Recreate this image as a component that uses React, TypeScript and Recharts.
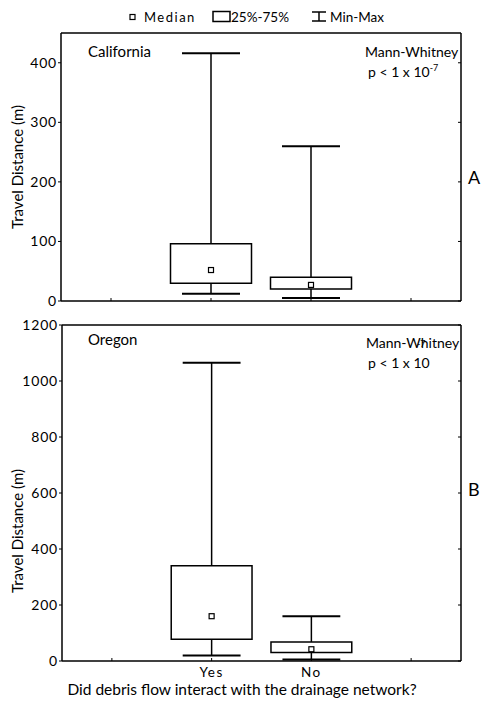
import { ComposedChart, XAxis, YAxis, ReferenceArea, ReferenceLine, Scatter } from 'recharts'

// groups and where they sit on the numeric x axis
const groups = ['Yes', 'No']
const groupPos = [2, 3]
const xTicks = [1, 2, 3, 4]
const xTickLabels = ['', 'Yes', 'No', '']

// California travel distance (m)
const caMin = [12, 5]
const caQ1 = [30, 20]
const caMedian = [52, 27]
const caQ3 = [96, 40]
const caMax = [416, 260]
const caTicks = [0, 100, 200, 300, 400]

// Oregon travel distance (m)
const orMin = [20, 5]
const orQ1 = [78, 30]
const orMedian = [160, 42]
const orQ3 = [340, 68]
const orMax = [1065, 160]
const orTicks = [0, 200, 400, 600, 800, 1000, 1200]

const FONT = 'Lato, "Open Sans", sans-serif'
const BOX_HALF = 0.405
const CAP_HALF = 0.29
const INK = '#000'

const MedianMark = (props: any) => {
  const { cx, cy } = props
  return <rect x={cx - 2.5} y={cy - 2.5} width={5} height={5} fill="#fff" stroke={INK} strokeWidth={1.2} />
}

function boxes(min: number[], q1: number[], q3: number[], max: number[]) {
  const out: any[] = []
  groups.forEach((g, i) => {
    const x = groupPos[i]
    out.push(
      <ReferenceLine key={g + 'up'} segment={[{ x, y: q3[i] }, { x, y: max[i] }]} stroke={INK} strokeWidth={1.5} />,
      <ReferenceLine key={g + 'dn'} segment={[{ x, y: min[i] }, { x, y: q1[i] }]} stroke={INK} strokeWidth={1.5} />,
      <ReferenceLine key={g + 'capT'} segment={[{ x: x - CAP_HALF, y: max[i] }, { x: x + CAP_HALF, y: max[i] }]} stroke={INK} strokeWidth={2} />,
      <ReferenceLine key={g + 'capB'} segment={[{ x: x - CAP_HALF, y: min[i] }, { x: x + CAP_HALF, y: min[i] }]} stroke={INK} strokeWidth={2} />,
      <ReferenceArea key={g + 'box'} x1={x - BOX_HALF} x2={x + BOX_HALF} y1={q1[i]} y2={q3[i]} fill="#fff" fillOpacity={1} stroke={INK} strokeWidth={1.5} />
    )
  })
  return out
}

function Panel(props: {
  width: number; height: number; margin: any; domainMax: number; ticks: number[]
  min: number[]; q1: number[]; median: number[]; q3: number[]; max: number[]; showX: boolean; yWidth: number
}) {
  const medians = groups.map((g, i) => ({ name: g, x: groupPos[i], y: props.median[i] }))
  const tickStyle = { fontFamily: FONT, fontSize: 14, fill: INK, letterSpacing: 0.8 }
  return (
    <ComposedChart width={props.width} height={props.height} margin={props.margin}>
      <XAxis
        dataKey="x"
        type="number"
        domain={[0.5, 4.5]}
        ticks={xTicks}
        allowDataOverflow
        height={props.showX ? 22 : 1}
        tickSize={-3}
        tickMargin={props.showX ? 9 : 0}
        tickFormatter={(v: number) => (props.showX ? xTickLabels[xTicks.indexOf(v)] : '')}
        tick={{ ...tickStyle, letterSpacing: 1.5, fontSize: 13.5 }}
        axisLine={{ stroke: INK, strokeWidth: 1.5 }}
        tickLine={{ stroke: INK }}
      />
      <XAxis
        xAxisId="top"
        orientation="top"
        type="number"
        domain={[0.5, 4.5]}
        ticks={xTicks}
        allowDataOverflow
        height={1}
        tickSize={-3}
        tickFormatter={() => ''}
        axisLine={{ stroke: INK, strokeWidth: 1.5 }}
        tickLine={{ stroke: INK }}
      />
      <YAxis
        type="number"
        domain={[0, props.domainMax]}
        ticks={props.ticks}
        allowDataOverflow
        width={props.yWidth}
        tickSize={3}
        tickMargin={1}
        tick={tickStyle}
        axisLine={{ stroke: INK, strokeWidth: 1.5 }}
        tickLine={{ stroke: INK }}
      />
      <YAxis
        yAxisId="right"
        orientation="right"
        type="number"
        domain={[0, props.domainMax]}
        ticks={props.ticks}
        allowDataOverflow
        width={1}
        tickSize={-3}
        tickFormatter={() => ''}
        axisLine={{ stroke: INK, strokeWidth: 1.5 }}
        tickLine={{ stroke: INK }}
      />
      {boxes(props.min, props.q1, props.q3, props.max)}
      <Scatter data={medians} dataKey="y" shape={<MedianMark />} isAnimationActive={false} />
    </ComposedChart>
  )
}

export default function App() {
  const txt = { fontFamily: FONT, fill: INK }
  return (
    <div style={{ position: 'absolute', left: 0, top: 0, width: 482, height: 701, background: '#fff' }}>
      <div style={{ position: 'absolute', left: 0, top: 0 }}>
        <Panel
          width={482} height={312}
          margin={{ top: 32, right: 20, bottom: 10, left: 10 }}
          domainMax={450} ticks={caTicks}
          min={caMin} q1={caQ1} median={caMedian} q3={caQ3} max={caMax}
          showX={false} yWidth={51}
        />
      </div>
      <div style={{ position: 'absolute', left: 0, top: 312 }}>
        <Panel
          width={482} height={389}
          margin={{ top: 12, right: 20, bottom: 18, left: 10 }}
          domainMax={1200} ticks={orTicks}
          min={orMin} q1={orQ1} median={orMedian} q3={orQ3} max={orMax}
          showX={true} yWidth={52}
        />
      </div>
      <svg width={482} height={701} style={{ position: 'absolute', left: 0, top: 0, pointerEvents: 'none' }}>
        {/* legend */}
        <rect x={130} y={14.5} width={5} height={5} fill="#fff" stroke={INK} strokeWidth={1.2} />
        <text x={144} y={22} {...txt} fontSize={13} letterSpacing={1.5}>Median</text>
        <rect x={213} y={11.5} width={17} height={10} fill="#fff" stroke={INK} strokeWidth={1.5} />
        <text x={231} y={22} {...txt} fontSize={13.5}>25%-75%</text>
        <line x1={312} x2={326} y1={12} y2={12} stroke={INK} strokeWidth={1.5} />
        <line x1={319} x2={319} y1={12} y2={21} stroke={INK} strokeWidth={1.5} />
        <line x1={312} x2={326} y1={21} y2={21} stroke={INK} strokeWidth={1.5} />
        <text x={330} y={22} {...txt} fontSize={13.5}>Min-Max</text>

        {/* top panel notes */}
        <text x={88} y={57} {...txt} fontSize={15}>California</text>
        <text x={365} y={57} {...txt} fontSize={14}>Mann-Whitney</text>
        <text x={368} y={77} {...txt} fontSize={14}>p &lt; 1 x 10<tspan dy={-6} fontSize={9}>-7</tspan></text>
        <text x={468} y={184} {...txt} fontSize={18}>A</text>
        <text x={19} y={167} {...txt} fontSize={15} textAnchor="middle" transform="rotate(-90 19 167)" dominantBaseline="middle">Travel Distance (m)</text>

        {/* bottom panel notes */}
        <text x={88} y={345} {...txt} fontSize={15}>Oregon</text>
        <text x={366} y={348} {...txt} fontSize={14}>Mann-Whitney</text>
        <text x={368} y={368} {...txt} fontSize={14}>p &lt; 1 x 10</text>
        <text x={417} y={347} {...txt} fontSize={9}>-7</text>
        <text x={468} y={496} {...txt} fontSize={18}>B</text>
        <text x={19} y={531} {...txt} fontSize={15} textAnchor="middle" transform="rotate(-90 19 531)" dominantBaseline="middle">Travel Distance (m)</text>

        <text x={242} y={695} {...txt} fontSize={15.5} textAnchor="middle">Did debris flow interact with the drainage network?</text>
      </svg>
    </div>
  )
}
